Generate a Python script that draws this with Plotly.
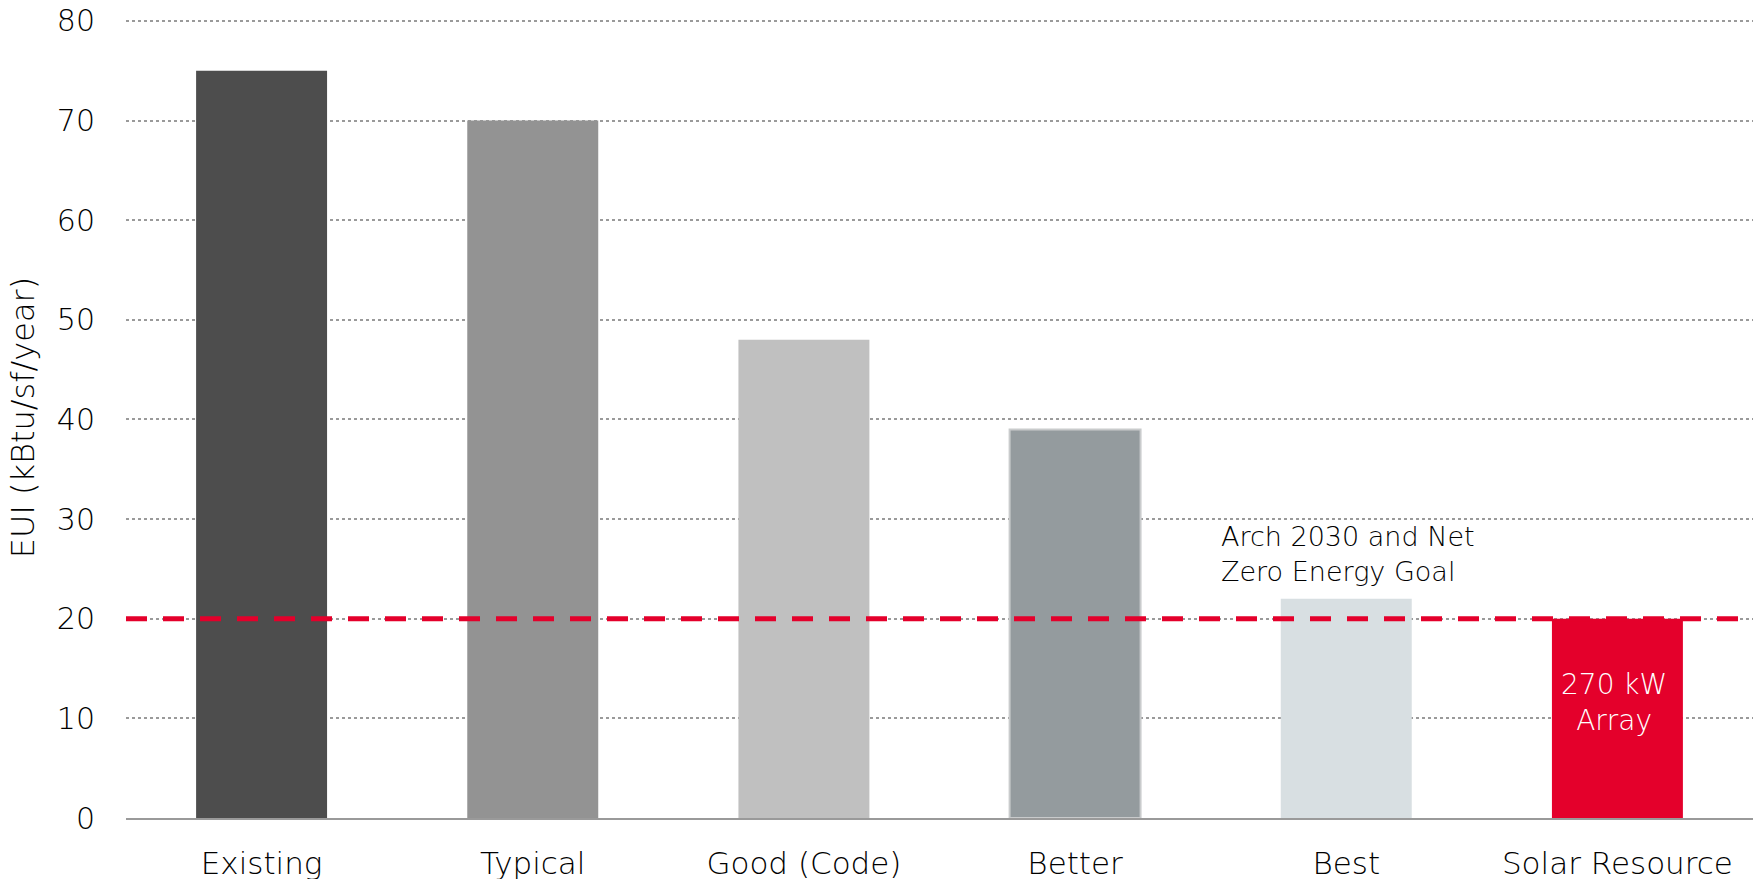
import plotly.graph_objects as go

# EUI by design scenario (kBtu/sf/year)
categories = ["Existing", "Typical", "Good (Code)", "Better", "Best", "Solar Resource"]
eui_values = [75, 70, 48, 39, 22, 20]
bar_colors = ["#4d4d4d", "#939393", "#c0c0c0", "#949b9e", "#d8dfe2", "#e4002b"]
outline_colors = ["rgba(0,0,0,0)"] * 3 + ["#c9cbcc"] + ["rgba(0,0,0,0)"] * 2
outline_widths = [0, 0, 0, 2, 0, 0]

goal_eui = 20
y_ticks = [0, 10, 20, 30, 40, 50, 60, 70, 80]

FONT = "DejaVu Sans"
W = 200
TEXT = "#000000"

fig = go.Figure()
fig.add_trace(go.Bar(
    x=categories,
    y=eui_values,
    marker=dict(color=bar_colors, line=dict(color=outline_colors, width=outline_widths)),
    hoverinfo="x+y",
))

# Arch 2030 / net zero target line
fig.add_shape(
    type="line", xref="paper", yref="y",
    x0=0, x1=1, y0=goal_eui, y1=goal_eui,
    line=dict(color="#e4002b", width=5, dash="21px,16px"),
    layer="above",
)

fig.add_annotation(
    x="Best", y=goal_eui + 6.5, xref="x", yref="y",
    text="Arch 2030 and Net<br>Zero Energy Goal",
    showarrow=False, xanchor="left", yanchor="middle", align="left",
    xshift=-127,
    font=dict(family=FONT, size=27, color=TEXT, weight=W),
)
fig.add_annotation(
    x="Solar Resource", y=11.6, xref="x", yref="y",
    text="270 kW<br>Array",
    showarrow=False, xanchor="center", yanchor="middle", align="center",
    xshift=-3,
    font=dict(family=FONT, size=28, color="white", weight=W),
)

fig.update_layout(
    width=1758, height=879,
    margin=dict(l=126, r=5, t=17, b=61),
    paper_bgcolor="white", plot_bgcolor="white",
    bargap=0.517,
    showlegend=False,
    font=dict(family=FONT, color=TEXT),
)
fig.update_yaxes(
    range=[0, 80.4], tickvals=y_ticks, automargin=False,
    showgrid=True, gridcolor="#9a9a9a", griddash="dot", gridwidth=1.5,
    zeroline=False, showline=False, ticks="",
    ticklabelstandoff=30,
    tickfont=dict(family=FONT, size=30, color=TEXT, weight=W),
    title=dict(text="EUI (kBtu/sf/year)", font=dict(family=FONT, size=32, color=TEXT, weight=W), standoff=12),
)
fig.update_xaxes(
    showgrid=False, showline=True, linecolor="#9a9a9a", linewidth=2,
    ticks="", ticklabelstandoff=17, automargin=False,
    tickfont=dict(family=FONT, size=31, color=TEXT, weight=W),
)

fig.write_html("out.html")
